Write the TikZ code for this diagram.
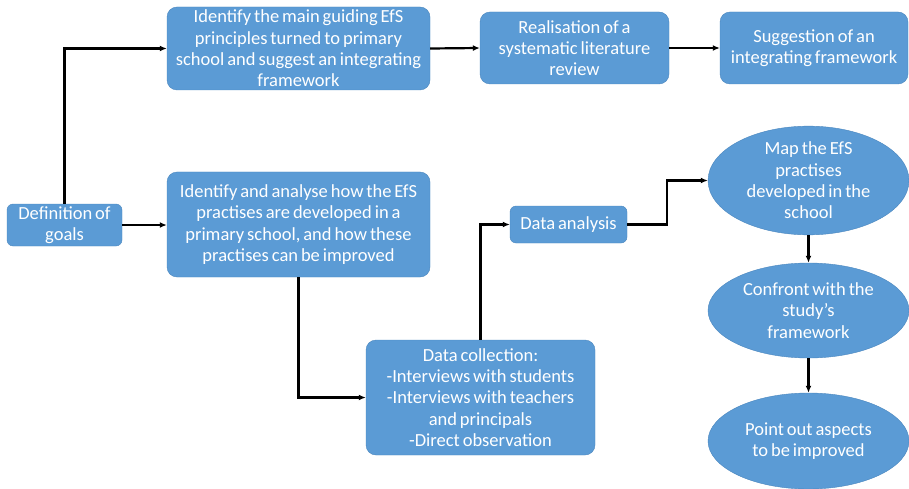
\documentclass[tikz,border=0pt]{standalone}
\usepackage{fontspec}
\setmainfont{Carlito}[WordSpace=0.7]
\usepackage{tikz}
\usetikzlibrary{shapes.geometric,arrows.meta}
\definecolor{boxblue}{HTML}{5B9BD5}
\definecolor{boxline}{HTML}{4A86BE}
\begin{document}
\begin{tikzpicture}[x=1pt, y=-1pt,
    box/.style={draw=boxline, fill=boxblue, text=white, rounded corners=10pt,
      align=center, inner sep=0pt, font=\fontsize{18.5}{21.3}\selectfont},
    oval/.style={ellipse, draw=boxline, fill=boxblue, text=white,
      align=center, inner sep=0pt, minimum width=201pt, font=\fontsize{18.5}{21.3}\selectfont},
    link/.style={line width=2.2pt, -{Latex[length=7pt,width=6pt]}}]
    \useasboundingbox (0,0) rectangle (909,489);
    % boxes
    \node[box, rounded corners=6pt, minimum width=115pt, minimum height=42pt] (goals) at (64.5,225) {Definition of\\goals};
    \node[box, minimum width=263pt, minimum height=83pt] (principles) at (298.5,48.5)
        {Identify the main guiding EfS\\principles turned to primary\\school and suggest an integrating\\framework};
    \node[box, minimum width=189pt, minimum height=72pt] (review) at (574.5,48)
        {Realisation of a\\systematic literature\\review};
    \node[box, minimum width=188pt, minimum height=72pt] (framework) at (814,48)
        {Suggestion of an\\integrating framework};
    \node[box, minimum width=263pt, minimum height=105pt] (practises) at (298.5,224.5)
        {Identify and analyse how the EfS\\practises are developed in a\\primary school, and how these\\practises can be improved};
    \node[box, minimum width=229pt, minimum height=115pt] (collection) at (480.5,397.5)
        {Data collection:\\-Interviews with students\\-Interviews with teachers\\and principals\\-Direct observation};
    \node[box, rounded corners=6pt, minimum width=117pt, minimum height=37pt] (analysis) at (568.5,224.5) {Data analysis};
    \node[oval, minimum height=97pt] (map) at (808.5,180.5)
        {Map the EfS\\practises\\developed in the\\school};
    \node[oval, minimum height=95pt] (confront) at (808.5,310.5)
        {Confront with the\\study’s\\framework};
    \node[oval, minimum height=96pt] (improve) at (808.5,441)
        {Point out aspects\\to be improved};
    % connectors
    \draw[link] (goals.north) |- (principles.west);
    \draw[link] (goals.east) -- (practises.west |- goals.east);
    \draw[link] (principles.east) -- (review.west);
    \draw[link] (review.east) -- (framework.west);
    \draw[link] (practises.south) |- (collection.west);
    \draw[link] (collection.north) |- (analysis.west);
    \draw[link] (analysis.east) -- (667,224.5) |- (map.west);
    \draw[link] (map.south) -- (confront.north);
    \draw[link] (confront.south) -- (improve.north);
\end{tikzpicture}
\end{document}
